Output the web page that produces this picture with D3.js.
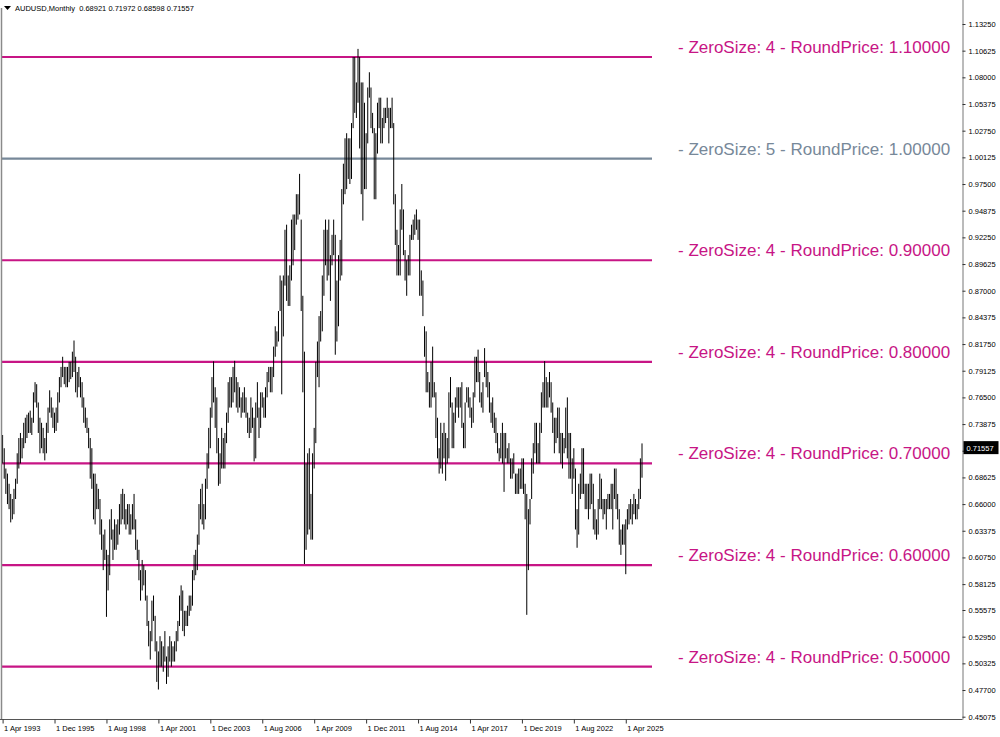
<!DOCTYPE html>
<html><head><meta charset="utf-8">
<script src="https://cdn.jsdelivr.net/npm/d3@7"></script>
<style>body{margin:0;background:#fff}svg{display:block}</style>
</head><body>
<svg id="c" width="1000" height="737"></svg>
<script>
// ---- data ----
const symbolTitle = "AUDUSD,Monthly";
const lastBarOHLC = [0.68921, 0.71972, 0.68598, 0.71557];
const firstMonth = "1 Apr 1993";

// monthly highs, Apr 1993 .. Feb 2026
const highs = [
  /*1993*/ .7280,.7150,.6950,.6900,.6800,.6700,.6650,.6750,.6850,
  /*1994*/ .7100,.7250,.7300,.7250,.7400,.7450,.7480,.7500,.7520,.7450,.7700,.7800,
  /*1995*/ .7780,.7600,.7450,.7400,.7350,.7250,.7400,.7550,.7720,.7650,.7550,.7500,
  /*1996*/ .7550,.7700,.7850,.7950,.8050,.7950,.7950,.7950,.8000,.8000,.8100,.8210,
  /*1997*/ .8050,.7900,.7950,.7850,.7800,.7650,.7550,.7450,.7350,.7250,.7150,.6900,
  /*1998*/ .6900,.6800,.6750,.6650,.6450,.6300,.6350,.6150,.6100,.6450,.6550,.6350,
  /*1999*/ .6450,.6400,.6450,.6600,.6700,.6750,.6700,.6550,.6600,.6600,.6500,.6600,
  /*2000*/ .6700,.6450,.6250,.6150,.5950,.6050,.6000,.5950,.5700,.5450,.5350,.5650,
  /*2001*/ .5700,.5500,.5250,.5150,.5300,.5250,.5200,.5350,.5100,.5200,.5300,.5250,
  /*2002*/ .5200,.5250,.5350,.5450,.5700,.5800,.5750,.5550,.5550,.5600,.5700,.5700,
  /*2003*/ .5950,.6100,.6150,.6300,.6600,.6750,.6800,.6600,.6850,.7100,.7350,.7550,
  /*2004*/ .7850,.8005,.7750,.7650,.7250,.7100,.7350,.7250,.7300,.7500,.7800,.7850,
  /*2005*/ .7850,.7950,.8010,.7850,.7800,.7750,.7650,.7700,.7750,.7650,.7500,.7450,
  /*2006*/ .7650,.7550,.7450,.7600,.7800,.7550,.7700,.7700,.7650,.7750,.7900,.7950,
  /*2007*/ .7950,.7950,.8150,.8350,.8300,.8500,.8850,.8800,.8850,.9300,.9350,.8850,
  /*2008*/ .8950,.9400,.9450,.9450,.9650,.9650,.9850,.9400,.8650,.8100,.7000,.7100,
  /*2009*/ .7150,.6700,.7100,.7350,.8000,.8200,.8450,.8500,.8850,.9300,.9400,.9300,
  /*2010*/ .9400,.9050,.9250,.9400,.9250,.8800,.9050,.9200,.9700,.9950,1.0200,1.0250,
  /*2011*/ 1.0200,1.0200,1.0350,1.1000,1.1000,1.0750,1.1080,1.1000,1.0750,1.0750,1.0550,1.0250,
  /*2012*/ 1.0700,1.0850,1.0700,1.0450,1.0300,1.0250,1.0550,1.0600,1.0600,1.0400,1.0500,1.0500,
  /*2013*/ 1.0600,1.0500,1.0500,1.0600,1.0350,.9650,.9300,.9150,.9500,.9750,.9500,.9100,
  /*2014*/ .9000,.9050,.9250,.9350,.9400,.9450,.9500,.9400,.9400,.8900,.8800,.8350,
  /*2015*/ .8300,.7900,.7800,.8000,.8150,.7800,.7700,.7450,.7150,.7400,.7300,.7400,
  /*2016*/ .7300,.7250,.7700,.7850,.7600,.7500,.7650,.7750,.7750,.7750,.7800,.7400,
  /*2017*/ .7600,.7750,.7750,.7650,.7550,.7700,.8050,.8050,.8120,.7900,.7700,.7800,
  /*2018*/ .8135,.8000,.7900,.7800,.7600,.7650,.7500,.7450,.7300,.7150,.7300,.7400,
  /*2019*/ .7300,.7300,.7150,.7200,.7050,.7050,.7100,.6900,.6900,.6950,.6950,.7050,
  /*2020*/ .7050,.6800,.6700,.6550,.6650,.7050,.7200,.7400,.7400,.7200,.7400,.7700,
  /*2021*/ .7800,.8007,.7850,.7800,.7900,.7800,.7600,.7450,.7450,.7550,.7550,.7300,
  /*2022*/ .7300,.7250,.7550,.7650,.7300,.7300,.7050,.7150,.6950,.6550,.6800,.6900,
  /*2023*/ .7150,.7150,.6800,.6800,.6800,.6900,.6900,.6800,.6550,.6450,.6650,.6900,
  /*2024*/ .6850,.6650,.6650,.6650,.6700,.6700,.6800,.6800,.6950,.6950,.6700,.6550,
  /*2025*/ .6350,.6400,.6400,.6450,.6550,.6600,.6650,.6600,.6700,.6650,.6600,.6750,
  /*2026*/ .7050,.71972
];
// monthly lows, Apr 1993 .. Feb 2026
const lows = [
  /*1993*/ .7000,.6850,.6700,.6600,.6550,.6420,.6450,.6500,.6650,
  /*1994*/ .6800,.6950,.7000,.7050,.7150,.7200,.7250,.7300,.7300,.7280,.7400,.7600,
  /*1995*/ .7550,.7300,.7100,.7150,.7100,.7030,.7100,.7300,.7500,.7450,.7350,.7300,
  /*1996*/ .7320,.7400,.7600,.7750,.7850,.7780,.7750,.7750,.7800,.7830,.7850,.7900,
  /*1997*/ .7700,.7650,.7750,.7650,.7550,.7400,.7350,.7300,.7150,.6850,.6750,.6450,
  /*1998*/ .6400,.6550,.6550,.6300,.6150,.5950,.6050,.5490,.5750,.5900,.6250,.6050,
  /*1999*/ .6150,.6150,.6200,.6300,.6400,.6450,.6400,.6350,.6400,.6300,.6300,.6350,
  /*2000*/ .6350,.6150,.6050,.5850,.5650,.5750,.5800,.5650,.5400,.5200,.5070,.5250,
  /*2001*/ .5450,.5150,.4850,.4775,.5000,.5000,.4950,.5050,.4830,.4900,.5050,.5000,
  /*2002*/ .5050,.5050,.5150,.5250,.5400,.5550,.5350,.5300,.5400,.5400,.5500,.5550,
  /*2003*/ .5600,.5850,.5900,.5950,.6200,.6450,.6400,.6350,.6450,.6750,.6950,.7150,
  /*2004*/ .7450,.7600,.7350,.7100,.6780,.6800,.6950,.6950,.6950,.7200,.7400,.7550,
  /*2005*/ .7550,.7600,.7700,.7550,.7500,.7550,.7450,.7500,.7500,.7450,.7300,.7250,
  /*2006*/ .7300,.7350,.7020,.7050,.7450,.7250,.7350,.7550,.7450,.7450,.7650,.7800,
  /*2007*/ .7700,.7700,.7850,.8050,.8150,.8200,.8500,.7680,.8250,.8750,.8600,.8550,
  /*2008*/ .8550,.8800,.8950,.9100,.9350,.9400,.9450,.8500,.7700,.6010,.6150,.6300,
  /*2009*/ .6350,.6250,.6250,.6950,.7200,.7850,.7750,.8200,.8300,.8650,.8950,.8800,
  /*2010*/ .8850,.8600,.8950,.9050,.8070,.8200,.8350,.8800,.8850,.9550,.9650,.9700,
  /*2011*/ .9800,.9750,.9800,1.0300,1.0450,1.0400,1.0550,1.0100,.9650,.9390,.9700,.9700,
  /*2012*/ 1.0150,1.0600,1.0300,1.0250,.9600,.9600,1.0050,1.0300,1.0150,1.0150,1.0300,1.0350,
  /*2013*/ 1.0400,1.0150,1.0300,1.0300,.9550,.9150,.8850,.8850,.8850,.9300,.9050,.8800,
  /*2014*/ .8650,.8850,.8850,.9200,.9200,.9250,.9300,.9200,.8650,.8650,.8450,.8050,
  /*2015*/ .7700,.7700,.7550,.7550,.7650,.7650,.7250,.7050,.6900,.6950,.6900,.7050,
  /*2016*/ .6830,.7000,.7050,.7550,.7150,.7150,.7400,.7550,.7450,.7550,.7350,.7150,
  /*2017*/ .7150,.7600,.7550,.7450,.7350,.7400,.7650,.7800,.7800,.7600,.7550,.7500,
  /*2018*/ .7850,.7750,.7650,.7500,.7400,.7350,.7300,.7200,.7100,.7020,.7050,.7000,
  /*2019*/ .6720,.7050,.7000,.7000,.6850,.6850,.6900,.6700,.6700,.6700,.6750,.6750,
  /*2020*/ .6700,.6450,.5510,.5950,.6400,.6650,.6900,.7100,.7000,.7000,.7000,.7300,
  /*2021*/ .7550,.7550,.7550,.7550,.7650,.7500,.7300,.7100,.7200,.7250,.7100,.7000,
  /*2022*/ .6950,.7100,.7150,.7050,.6850,.6850,.6700,.6850,.6350,.6170,.6300,.6650,
  /*2023*/ .6700,.6700,.6550,.6550,.6450,.6550,.6600,.6350,.6300,.6250,.6300,.6550,
  /*2024*/ .6550,.6450,.6500,.6350,.6550,.6550,.6550,.6350,.6650,.6550,.6450,.6200,
  /*2025*/ .6100,.6200,.6200,.5910,.6350,.6400,.6450,.6400,.6500,.6450,.6450,.6550,
  /*2026*/ .6650,.68598
];

const priceTicks = [1.13250,1.10625,1.08000,1.05375,1.02750,1.00125,0.97500,0.94875,0.92250,
  0.89625,0.87000,0.84375,0.81750,0.79125,0.76500,0.73875,0.71250,0.68625,0.66000,0.63375,
  0.60750,0.58125,0.55575,0.52950,0.50325,0.47700,0.45075];
const timeLabels = ["1 Apr 1993","1 Dec 1995","1 Aug 1998","1 Apr 2001","1 Dec 2003","1 Aug 2006",
  "1 Apr 2009","1 Dec 2011","1 Aug 2014","1 Apr 2017","1 Dec 2019","1 Aug 2022","1 Apr 2025"];
const timeLabelBars = [0,32,64,96,128,160,192,224,256,288,320,352,384];
const roundLevels = [1.10, 1.00, 0.90, 0.80, 0.70, 0.60, 0.50];
const zeroSizes = [4, 5, 4, 4, 4, 4, 4];

// ---- drawing ----
const svg = d3.select("#c");
const W = 1000, H = 737;
const plotRight = 962.5, plotBottom = 719.5;
const pink = "#C71585", slate = "#778899";
const smallFont = "'Liberation Sans', Arial, sans-serif";

svg.append("rect").attr("width", W).attr("height", H).attr("fill", "#fff");

const x = d3.scaleLinear().domain([0, highs.length - 1]).range([2.6, 642]);
const y = d3.scaleLinear().domain([0.45075, 1.13250]).range([716.7, 24]);

// round-number levels
const lv = svg.append("g");
roundLevels.forEach((v, k) => {
  const col = zeroSizes[k] === 5 ? slate : pink;
  lv.append("line").attr("x1", 2).attr("x2", 652)
    .attr("y1", y(v)).attr("y2", y(v))
    .attr("stroke", col).attr("stroke-width", 2.2);
  lv.append("text").attr("x", 678).attr("y", y(v) - 4)
    .attr("fill", col).attr("font-family", "'Liberation Sans', Arial, sans-serif")
    .attr("font-size", 17)
    .text(`- ZeroSize: ${zeroSizes[k]} - RoundPrice: ${d3.format(".5f")(v)}`);
});

// bars (high-low)
svg.append("g").selectAll("line").data(highs).join("line")
  .attr("x1", (d, i) => x(i)).attr("x2", (d, i) => x(i))
  .attr("y1", d => y(d)).attr("y2", (d, i) => y(lows[i]))
  .attr("stroke", "#000").attr("stroke-width", 1);

// frame
svg.append("line").attr("x1", 1.5).attr("x2", 1.5).attr("y1", 8).attr("y2", plotBottom)
  .attr("stroke", "#8a8a8a").attr("stroke-width", 1.5);

// right price axis
const yAxis = d3.axisRight(y).tickValues(priceTicks).tickFormat(d3.format(".5f"))
  .tickSizeInner(3).tickSizeOuter(0).tickPadding(3);
const ga = svg.append("g").attr("transform", `translate(${plotRight},0)`).call(yAxis);
ga.select(".domain").attr("stroke", "#777").attr("d", `M0.5,0V${plotBottom}`);
ga.selectAll(".tick line").attr("stroke", "#333");
ga.selectAll(".tick text").attr("font-family", smallFont).attr("font-size", 7.5).attr("fill", "#000");

// bottom time axis
const xAxis = d3.axisBottom(x).tickValues(timeLabelBars)
  .tickFormat((d, k) => timeLabels[k]).tickSizeInner(4).tickSizeOuter(0).tickPadding(2);
const gx = svg.append("g").attr("transform", `translate(0,${plotBottom})`).call(xAxis);
gx.select(".domain").attr("stroke", "#555").attr("d", `M0,0H${plotRight}`);
gx.selectAll(".tick line").attr("stroke", "#333");
gx.selectAll(".tick text").attr("font-family", smallFont).attr("font-size", 7.5)
  .attr("fill", "#000").attr("text-anchor", "start").attr("dx", 1);

// current price label
const cp = lastBarOHLC[3];
svg.append("rect").attr("x", plotRight + 1).attr("y", y(cp) - 6.5).attr("width", 35).attr("height", 13).attr("fill", "#000");
svg.append("text").attr("x", plotRight + 4).attr("y", y(cp) + 3)
  .attr("font-family", smallFont).attr("font-size", 7.5).attr("fill", "#fff")
  .text(d3.format(".5f")(cp));

// header
svg.append("path").attr("d", "M4,6H11L7.5,10Z").attr("fill", "#000");
svg.append("text").attr("x", 15).attr("y", 11)
  .attr("font-family", smallFont).attr("font-size", 7.5).attr("fill", "#000")
  .attr("xml:space", "preserve")
  .text(symbolTitle + "  " + lastBarOHLC.map(d3.format(".5f")).join(" "));
</script>
</body></html>
